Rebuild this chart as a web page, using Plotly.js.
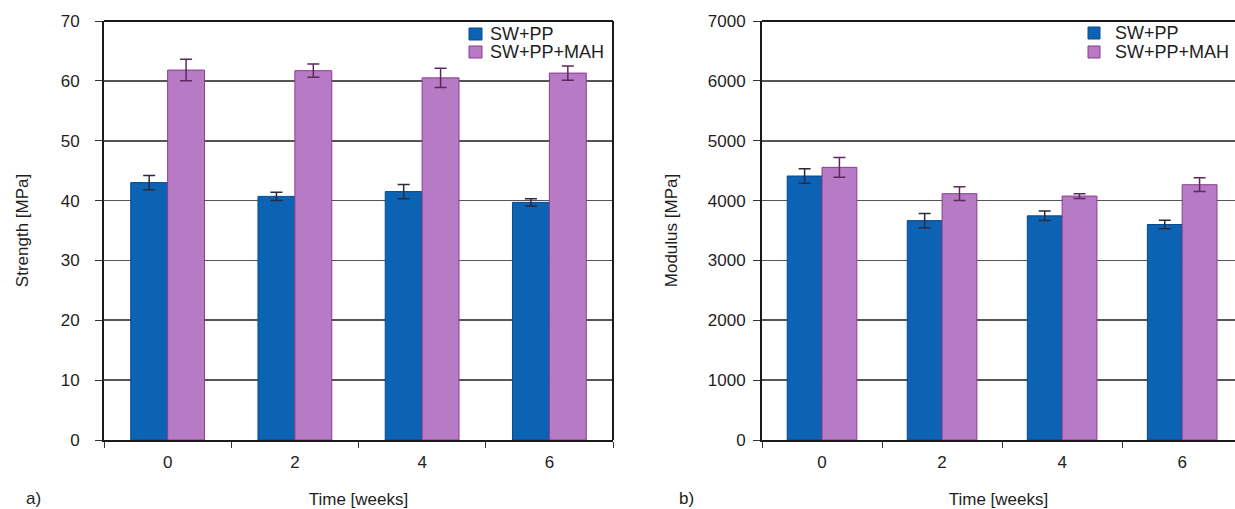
<!DOCTYPE html>
<html>
<head>
<meta charset="utf-8">
<script src="https://cdn.plot.ly/plotly-3.0.1.min.js"></script>
<style>html,body{margin:0;padding:0;background:#fff;}#chart{width:1235px;height:509px;}</style>
</head>
<body>
<div id="chart"></div>
<script>
// ---- data ----
const weeks = ["0", "2", "4", "6"];
const seriesNames = ["SW+PP", "SW+PP+MAH"];
const strengthPP = [43.0, 40.7, 41.5, 39.7];
const strengthPPErr = [1.2, 0.7, 1.2, 0.6];
const strengthMAH = [61.8, 61.7, 60.5, 61.3];
const strengthMAHErr = [1.8, 1.1, 1.6, 1.2];
const modulusPP = [4410, 3665, 3745, 3600];
const modulusPPErr = [120, 120, 80, 70];
const modulusMAH = [4555, 4115, 4075, 4265];
const modulusMAHErr = [165, 115, 40, 115];

const FONT = "Liberation Sans, Arial, sans-serif";
const TXT = "#1e1e1e";
const blue = "#0c62b3";
const blueLine = "#084a8c";
const pink = "#b77ac5";
const pinkLine = "#8e3b8e";

function bar(x, y, err, name, color, line, errColor, xa, ya) {
  return {
    type: "bar", x: x, y: y, name: name,
    xaxis: xa, yaxis: ya, showlegend: false,
    marker: {color: color, line: {color: line, width: 1}},
    error_y: {type: "data", array: err, visible: true, color: errColor, thickness: 1.5, width: 6}
  };
}

const data = [
  bar(weeks, strengthPP, strengthPPErr, seriesNames[0], blue, blueLine, "#2a2a3a", "x", "y"),
  bar(weeks, strengthMAH, strengthMAHErr, seriesNames[1], pink, pinkLine, "#5a2a5a", "x", "y"),
  bar(weeks, modulusPP, modulusPPErr, seriesNames[0], blue, blueLine, "#2a2a3a", "x2", "y2"),
  bar(weeks, modulusMAH, modulusMAHErr, seriesNames[1], pink, pinkLine, "#5a2a5a", "x2", "y2")
];

const W = 1235, H = 509;
const yDom = [1 - 440 / H, 1 - 21 / H];
const px = v => v / W;
const py = v => 1 - v / H;

const xCommon = {
  type: "category", showgrid: false, zeroline: false,
  showline: true, linecolor: "#1a1a1a", linewidth: 2,
  ticks: "outside", tickson: "boundaries", ticklen: 6, tickcolor: "#333",
  ticklabelstandoff: 6,
  tickfont: {family: FONT, size: 17, color: TXT},
  title: {text: "Time [weeks]", font: {family: FONT, size: 17, color: TXT}, standoff: 22}
};
const yCommon = {
  showgrid: true, gridcolor: "#555555", gridwidth: 1.6, zeroline: false,
  showline: true, linecolor: "#1a1a1a", linewidth: 2,
  ticks: "outside", ticklen: 7, tickcolor: "#333",
  tickfont: {family: FONT, size: 17, color: TXT},
  domain: yDom
};

// compact legend built from seriesNames
function legendItems(sqX0, sqX1, textX, rows) {
  const shapes = [], ann = [];
  [blue, pink].forEach((c, i) => {
    shapes.push({type: "rect", xref: "paper", yref: "paper",
      x0: px(sqX0), x1: px(sqX1), y0: py(rows[i] + 6), y1: py(rows[i] - 6),
      fillcolor: c, line: {color: i ? pinkLine : blueLine, width: 1}});
    ann.push({text: seriesNames[i], xref: "paper", yref: "paper", x: px(textX), y: py(rows[i]),
      xanchor: "left", yanchor: "middle", showarrow: false,
      font: {family: FONT, size: 18, color: TXT}});
  });
  return {shapes, ann};
}
const leg1 = legendItems(469, 482, 488, [34, 52]);
const leg2 = legendItems(1088, 1100, 1113, [33, 52]);

const layout = {
  width: W, height: H,
  margin: {l: 0, r: 0, t: 0, b: 0},
  paper_bgcolor: "#fff", plot_bgcolor: "#fff",
  barmode: "group", bargap: 0.42, bargroupgap: 0,
  showlegend: false,
  font: {family: FONT, color: TXT},
  xaxis: Object.assign({}, xCommon, {domain: [px(104), px(613)], range: [-0.5, 3.5], anchor: "y"}),
  yaxis: Object.assign({}, yCommon, {range: [0, 70], dtick: 10, anchor: "x", ticklabelstandoff: 12,
    title: {text: "Strength [MPa]", font: {family: FONT, size: 17, color: TXT}, standoff: 28}}),
  xaxis2: Object.assign({}, xCommon, {domain: [px(762), 1], range: [-0.5, 3.44], anchor: "y2"}),
  yaxis2: Object.assign({}, yCommon, {range: [0, 7000], dtick: 1000, anchor: "x2", ticklabelstandoff: 4,
    title: {text: "Modulus [MPa]", font: {family: FONT, size: 17, color: TXT}, standoff: 26}}),
  shapes: [
    {type: "line", xref: "paper", yref: "paper", x0: px(104), x1: px(613), y0: yDom[1], y1: yDom[1], line: {color: "#1a1a1a", width: 2}},
    {type: "line", xref: "paper", yref: "paper", x0: px(613), x1: px(613), y0: yDom[0], y1: yDom[1], line: {color: "#1a1a1a", width: 2}},
    {type: "line", xref: "paper", yref: "paper", x0: px(762), x1: 1, y0: yDom[1], y1: yDom[1], line: {color: "#1a1a1a", width: 2}}
  ].concat(leg1.shapes, leg2.shapes),
  annotations: [
    {text: "a)", xref: "paper", yref: "paper", x: px(33), y: py(498), xanchor: "center", yanchor: "middle", showarrow: false, font: {family: FONT, size: 17, color: TXT}},
    {text: "b)", xref: "paper", yref: "paper", x: px(686), y: py(498), xanchor: "center", yanchor: "middle", showarrow: false, font: {family: FONT, size: 17, color: TXT}}
  ].concat(leg1.ann, leg2.ann)
};

Plotly.newPlot("chart", data, layout, {displayModeBar: false, staticPlot: true});
</script>
</body>
</html>
